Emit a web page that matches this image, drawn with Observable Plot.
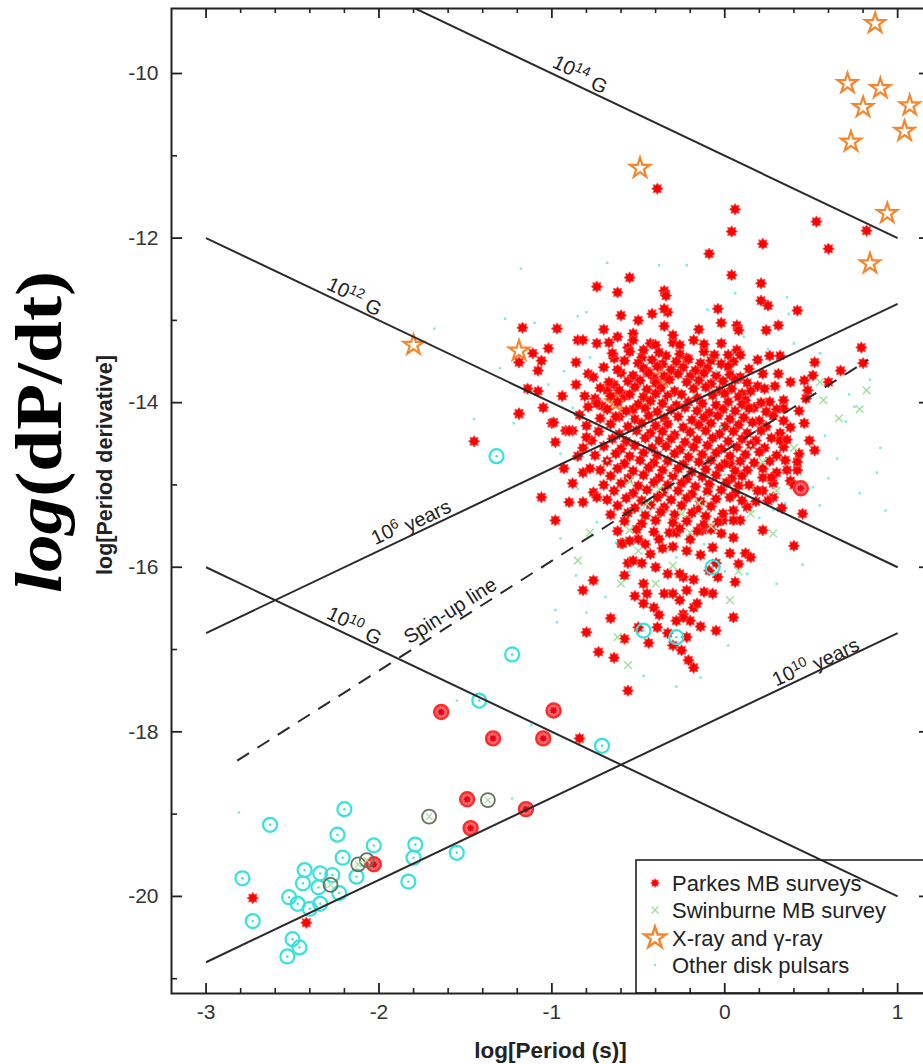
<!DOCTYPE html>
<html><head><meta charset="utf-8">
<script src="https://cdn.jsdelivr.net/npm/d3@7"></script>
<script src="https://cdn.jsdelivr.net/npm/@observablehq/plot@0.6"></script>
<style>
html,body{margin:0;padding:0;background:#fff;overflow:hidden;}
#chart{position:relative;width:923px;height:1064px;overflow:hidden;}
#chart svg{max-width:none !important;}
</style></head><body><div id="chart"></div>
<script>
// ---- tick values ----
const xMajor = [-3, -2, -1, 0, 1];
const xMinor = [-2.8, -2.6, -2.4, -2.2, -1.8, -1.6, -1.4, -1.2, -0.8, -0.6, -0.4, -0.2, 0.2, 0.4, 0.6, 0.8];
const yMajor = [-20, -18, -16, -14, -12, -10];
const yMinor = [-21, -19, -17, -15, -13, -11];

// ---- reference lines [x1, y1, x2, y2] in log P / log Pdot ----
const fieldLines = [[-3, -8, 1, -12], [-3, -12, 1, -16], [-3, -16, 1, -20]];
const ageLines = [[-3, -16.8, 1, -12.8], [-3, -20.8, 1, -16.8]];
const spinUpLine = [[-2.82, -18.35, 0.83, -13.48]];

// ---- line labels: [x, y, main, superscript, rest, kind] ----
const lineLabels = [
  [-0.83, -10.0, "10", "14", " G", "field"],
  [-2.135, -12.70, "10", "12", " G", "field"],
  [-2.135, -16.70, "10", "10", " G", "field"],
  [-1.816, -15.44, "10", "6", " years", "age"],
  [-1.586, -16.53, "Spin-up line", "", "", "spin"],
  [0.525, -17.14, "10", "10", " years", "age"]
];

// ---- Parkes MB surveys (red stars) [log P, log Pdot] ----
const parkes = [
[-0.39,-11.40],[0.06,-11.65],[0.04,-11.92],[0.22,-12.07],[0.53,-11.80],[0.60,-12.13],[0.82,-11.91],[-0.09,-12.19],
[-0.55,-12.48],[-0.62,-12.66],[0.04,-12.45],[0.21,-12.55],[-0.35,-12.64],[-0.34,-12.70],[-0.33,-12.90],[0.21,-12.76],
[0.25,-12.82],[0.42,-12.88],[-0.04,-12.86],[-0.42,-12.92],[-0.60,-12.94],[-0.74,-12.59],[-0.35,-12.86],[-1.17,-13.09],
[-0.97,-13.10],[-0.70,-13.11],[-0.50,-13.00],[-0.35,-13.07],[-0.53,-13.16],[-0.53,-13.24],[-0.85,-13.24],[-0.82,-13.24],
[-0.74,-13.28],[-0.67,-13.27],[-0.56,-13.33],[-0.43,-13.28],[-0.40,-13.30],[-0.30,-13.27],[-0.26,-13.30],[-0.18,-13.24],
[-1.02,-13.34],[-1.11,-13.40],[-1.19,-13.51],[-1.06,-13.49],[-1.08,-13.61],[-0.86,-13.51],[-0.64,-13.46],[-0.48,-13.45],
[-0.34,-13.43],[-0.26,-13.41],[-0.22,-13.46],[-0.79,-13.65],[-0.76,-13.69],[-0.60,-13.64],[-0.56,-13.74],[-0.45,-13.62],
[-0.41,-13.70],[-1.14,-13.83],[-1.08,-13.86],[-0.94,-13.92],[-1.05,-14.06],[-1.19,-14.14],[-1.00,-14.25],[-0.92,-14.34],
[-0.88,-14.34],[-0.81,-13.92],[-0.75,-13.95],[-0.71,-14.04],[-0.68,-13.85],[-0.64,-13.78],[-0.58,-13.92],[-0.53,-14.08],
[-0.61,-14.17],[-0.02,-13.03],[0.07,-13.06],[0.08,-13.12],[0.24,-13.12],[0.31,-13.06],[-0.15,-13.11],[-0.02,-13.28],
[0.07,-13.36],[0.09,-13.42],[0.19,-13.48],[0.26,-13.43],[0.32,-13.43],[0.52,-13.51],[0.79,-13.33],[0.80,-13.52],
[0.31,-13.65],[0.38,-13.75],[0.46,-13.73],[0.48,-13.85],[0.47,-13.95],[0.67,-13.61],[0.60,-13.75],[0.51,-13.67],
[0.19,-13.80],[0.23,-13.83],[0.29,-13.80],[0.34,-13.97],[0.43,-14.10],[0.34,-14.07],[0.34,-14.22],[0.46,-14.25],
[0.17,-14.06],[0.20,-14.22],[0.26,-13.99],[0.10,-13.89],[0.40,-15.74],[0.22,-15.55],[0.05,-16.61],[-0.05,-16.77],
[0.12,-15.83],[0.15,-15.88],[0.06,-16.18],[-0.04,-16.12],[-0.07,-16.32],[-0.05,-15.95],[0.49,-14.46],[0.52,-14.58],
[0.34,-14.54],[0.32,-14.37],[0.43,-14.62],[0.26,-14.71],[0.22,-15.07],[0.28,-15.15],[0.18,-15.20],[0.14,-15.00],
[-1.45,-14.47],[-1.19,-14.13],[-1.06,-15.15],[-0.98,-15.43],[-0.93,-14.80],[-0.99,-14.24],[-0.98,-14.48],[-0.90,-14.34],
[-0.82,-14.55],[-0.90,-15.21],[-0.82,-15.21],[-0.76,-15.09],[-0.74,-15.15],[-0.60,-15.71],[-0.43,-15.84],[-0.88,-14.98],
[-0.82,-14.85],[-0.76,-16.16],[-0.82,-16.28],[-0.66,-16.62],[-0.80,-16.79],[-0.73,-17.03],[-0.64,-17.10],[-0.58,-16.87],
[-0.50,-16.73],[-0.56,-17.50],[-0.59,-15.71],[-0.56,-15.95],[-0.53,-15.92],[-0.47,-16.20],[-0.45,-16.32],[-0.47,-16.44],
[-0.41,-16.49],[-0.33,-16.08],[-0.35,-16.32],[-0.30,-16.32],[-0.26,-16.40],[-0.39,-16.73],[-0.33,-16.80],[-0.25,-17.01],
[-0.21,-17.13],[-0.18,-17.22],[-0.24,-16.57],[-0.20,-16.65],[-0.50,-15.66],[-0.36,-15.77],[-0.32,-15.58],[-0.28,-15.58],
[-0.20,-15.66],[-0.13,-15.55],[-0.24,-16.61],[-0.18,-16.49],[-0.22,-16.85],[-0.02,-15.59],[0.05,-15.64],[-0.14,-15.52],
[-0.07,-15.76],[0.03,-15.83],[0.08,-15.96],[-0.09,-16.04],[-0.24,-16.12],[-0.16,-16.44],[-0.22,-16.28],[0.03,-14.74],
[0.13,-14.82],[0.22,-14.91],[0.19,-15.07],[0.25,-15.19],[0.13,-15.27],[0.05,-15.31],[0.09,-15.43],[-0.01,-15.43],
[0.32,-14.46],[0.36,-14.82],[0.42,-14.82],[0.38,-14.95],[0.30,-14.08],[0.38,-14.30],[0.35,-14.70],[0.30,-14.85],
[0.40,-15.00],[0.33,-15.28],[0.45,-15.35],[0.36,-14.45],[0.42,-14.72],[0.28,-14.98],
[-0.55,-15.68],[-0.46,-15.72],[-0.38,-15.66],[-0.30,-15.75],[-0.22,-15.80],[-0.14,-15.85],[-0.48,-15.95],[-0.40,-16.00],
[-0.26,-16.08],[-0.18,-16.15],[-0.58,-16.10],[-0.52,-16.35],[-0.38,-16.58],[-0.28,-16.65],[-0.12,-16.30],[-0.14,-16.72],
[-0.44,-16.92],[-0.30,-16.95],
[-0.58,-13.49],[-0.50,-13.52],[-0.42,-13.48],[-0.36,-13.53],[-0.28,-13.50],[-0.21,-13.47],[-0.14,-13.52],[-0.08,-13.49],[-0.02,-13.53],[0.05,-13.50],
[-0.70,-13.57],[-0.62,-13.60],[-0.47,-13.58],[-0.39,-13.56],[-0.31,-13.60],[-0.24,-13.57],[-0.17,-13.61],[-0.10,-13.58],[0.02,-13.56],[0.14,-13.59],
[-0.53,-13.67],[-0.44,-13.64],[-0.35,-13.68],[-0.27,-13.65],[-0.20,-13.68],[-0.12,-13.64],[-0.05,-13.67],[0.03,-13.66],[0.09,-13.69],[0.22,-13.65],
[-0.67,-13.75],[-0.49,-13.73],[-0.40,-13.76],[-0.32,-13.72],[-0.22,-13.75],[-0.15,-13.73],[-0.08,-13.77],[-0.01,-13.74],[0.06,-13.72],[0.13,-13.76],
[-0.72,-13.82],[-0.61,-13.85],[-0.52,-13.81],[-0.45,-13.84],[-0.37,-13.82],[-0.29,-13.86],[-0.18,-13.83],[-0.11,-13.81],[-0.03,-13.85],[0.04,-13.83],[0.15,-13.86],
[-0.66,-13.92],[-0.55,-13.90],[-0.47,-13.93],[-0.40,-13.89],[-0.33,-13.92],[-0.25,-13.90],[-0.16,-13.94],[-0.07,-13.91],[0.00,-13.89],[0.08,-13.93],[0.12,-13.97],
[-0.74,-14.01],[-0.62,-13.99],[-0.50,-14.02],[-0.43,-13.98],[-0.36,-14.01],[-0.28,-14.03],[-0.21,-13.99],[-0.13,-14.01],[-0.05,-14.03],[0.02,-13.99],[0.10,-14.02],[0.21,-14.00],
[-0.68,-14.08],[-0.57,-14.10],[-0.46,-14.07],[-0.39,-14.11],[-0.31,-14.09],[-0.23,-14.06],[-0.16,-14.10],[-0.09,-14.12],[-0.01,-14.08],[0.06,-14.10],[0.14,-14.07],[0.24,-14.11],
[-0.72,-14.19],[-0.63,-14.17],[-0.52,-14.20],[-0.44,-14.16],[-0.35,-14.19],[-0.27,-14.17],[-0.19,-14.21],[-0.12,-14.18],[-0.04,-14.16],[0.03,-14.20],[0.11,-14.18],[0.28,-14.16],
[-0.80,-14.28],[-0.66,-14.26],[-0.56,-14.29],[-0.48,-14.25],[-0.40,-14.28],[-0.33,-14.26],[-0.24,-14.30],[-0.15,-14.27],[-0.08,-14.25],[0.00,-14.29],[0.08,-14.27],[0.16,-14.24],[0.24,-14.29],
[-0.73,-14.35],[-0.61,-14.38],[-0.51,-14.34],[-0.43,-14.37],[-0.36,-14.35],[-0.29,-14.39],[-0.20,-14.36],[-0.11,-14.34],[-0.03,-14.38],[0.05,-14.35],[0.13,-14.37],[0.21,-14.34],
[-0.77,-14.46],[-0.65,-14.44],[-0.57,-14.47],[-0.46,-14.43],[-0.38,-14.46],[-0.31,-14.44],[-0.23,-14.48],[-0.16,-14.45],[-0.07,-14.43],[0.02,-14.47],[0.10,-14.44],[0.18,-14.46],[0.27,-14.43],
[-0.70,-14.53],[-0.60,-14.56],[-0.52,-14.52],[-0.42,-14.55],[-0.34,-14.53],[-0.26,-14.57],[-0.18,-14.54],[-0.10,-14.52],[-0.02,-14.56],[0.07,-14.54],[0.15,-14.51],[0.23,-14.55],
[-0.75,-14.64],[-0.63,-14.62],[-0.55,-14.65],[-0.47,-14.61],[-0.39,-14.64],[-0.29,-14.62],[-0.21,-14.66],[-0.13,-14.63],[-0.05,-14.61],[0.03,-14.65],[0.12,-14.63],[0.20,-14.60],[0.30,-14.64],
[-0.68,-14.71],[-0.58,-14.74],[-0.49,-14.70],[-0.41,-14.73],[-0.33,-14.71],[-0.24,-14.75],[-0.15,-14.72],[-0.08,-14.70],[0.00,-14.74],[0.09,-14.71],[0.17,-14.73],
[-0.72,-14.82],[-0.62,-14.80],[-0.53,-14.83],[-0.44,-14.79],[-0.36,-14.82],[-0.27,-14.80],[-0.19,-14.84],[-0.11,-14.81],[-0.03,-14.79],[0.06,-14.83],[0.22,-14.80],
[-0.66,-14.89],[-0.56,-14.92],[-0.47,-14.88],[-0.38,-14.91],[-0.30,-14.89],[-0.22,-14.93],[-0.13,-14.90],[-0.05,-14.88],[0.04,-14.92],[0.10,-14.89],[0.27,-14.91],
[-0.70,-15.00],[-0.60,-14.98],[-0.50,-15.01],[-0.41,-14.97],[-0.33,-15.00],[-0.25,-14.98],[-0.17,-15.02],[-0.09,-14.99],[0.01,-14.97],[0.08,-15.01],
[-0.64,-15.07],[-0.53,-15.10],[-0.45,-15.06],[-0.36,-15.09],[-0.27,-15.07],[-0.19,-15.11],[-0.10,-15.08],[-0.02,-15.06],[0.06,-15.10],
[-0.68,-15.18],[-0.57,-15.16],[-0.48,-15.19],[-0.39,-15.15],[-0.31,-15.18],[-0.22,-15.16],[-0.14,-15.20],[-0.05,-15.17],[0.03,-15.15],[0.10,-15.19],
[-0.62,-15.25],[-0.52,-15.28],[-0.43,-15.24],[-0.35,-15.27],[-0.25,-15.25],[-0.16,-15.29],[-0.08,-15.26],
[-0.66,-15.36],[-0.56,-15.34],[-0.46,-15.37],[-0.37,-15.33],[-0.29,-15.36],[-0.19,-15.34],[-0.11,-15.38],[-0.01,-15.35],
[-0.58,-15.44],[-0.48,-15.47],[-0.40,-15.43],[-0.30,-15.46],[-0.22,-15.44],[-0.12,-15.48],[-0.04,-15.45],[0.05,-15.43],
[-0.62,-15.56],[-0.51,-15.54],[-0.41,-15.57],[-0.26,-15.53],[-0.16,-15.56],[-0.08,-15.54],
[-0.65,-13.40],[-0.55,-13.38],[-0.47,-13.36],[-0.38,-13.39],[-0.12,-13.38],[-0.06,-13.42],[-0.30,-13.18],[-0.62,-13.20],
[-0.12,-13.29],[0.02,-13.42],[-0.86,-13.78],[-0.84,-14.15],[-0.79,-14.05],[-0.85,-14.65],[-0.78,-14.80],[-0.80,-14.42],
[-2.73,-20.02],[-2.42,-20.32],[-0.84,-18.08]
];

// ---- Swinburne MB survey (light green crosses) ----
const swinburne = [
[-0.85,-15.92],[-0.56,-17.19],[0.55,-13.75],[0.57,-13.97],[0.66,-14.19],[0.30,-15.07],[0.28,-15.59],[0.03,-16.40],
[0.08,-16.05],[-0.20,-15.58],[-0.55,-15.55],[-0.45,-15.23],[-0.50,-15.80],[-0.40,-16.20],[-0.30,-15.98],[-0.15,-15.22],
[-0.08,-15.50],[-0.62,-16.85],[-0.38,-15.05],[-0.60,-16.20],[-0.25,-15.35],[0.15,-15.35],[-0.55,-14.95],[0.40,-14.55],
[0.22,-14.72],[0.78,-14.08],[0.82,-13.85],[-0.78,-15.58]
];

// ---- X-ray and gamma-ray (orange open stars) ----
const xray = [
[0.87,-9.39],[0.71,-10.12],[0.90,-10.18],[0.80,-10.41],[1.07,-10.39],[1.04,-10.70],[0.73,-10.83],[-0.49,-11.15],
[0.94,-11.70],[0.84,-12.31],[-1.80,-13.30],[-1.19,-13.37],[-0.37,-13.69],[-0.63,-14.00]
];

// ---- Other disk pulsars (small cyan dots) ----
const otherDisk = [
[-1.18,-12.37],[-0.68,-12.30],[-0.38,-12.33],[-0.22,-12.33],[0.06,-12.67],[0.36,-12.72],[0.37,-12.92],[0.55,-13.40],
[-1.27,-12.98],[-1.10,-13.03],[-0.85,-12.95],[-0.80,-12.90],[-1.30,-13.58],[-0.93,-13.62],[-0.78,-13.45],[-1.02,-13.78],
[-0.88,-14.06],[-1.22,-14.25],[-0.68,-14.70],[-0.95,-14.62],[-0.85,-15.05],[-0.95,-15.65],[-1.05,-16.00],[-0.74,-15.45],
[-0.69,-16.36],[-0.98,-16.52],[-0.55,-16.05],[-0.63,-15.70],[-0.28,-15.88],[-0.12,-15.72],[0.00,-16.05],[0.13,-16.08],
[0.20,-15.40],[0.28,-15.30],[0.35,-15.22],[0.31,-14.92],[0.44,-14.88],[0.51,-15.03],[0.55,-15.25],[0.60,-14.92],
[0.65,-14.68],[0.58,-14.40],[0.70,-14.23],[0.75,-14.05],[0.72,-13.90],[0.84,-13.72],[0.90,-14.55],[0.93,-15.31],
[0.88,-14.85],[0.78,-15.10],[0.25,-13.35],[0.40,-13.28],[-0.10,-12.87],[0.11,-13.20],[-0.45,-13.52],[-0.18,-13.90],
[-0.02,-14.30],[-0.30,-14.85],[-0.10,-15.13],[-0.41,-14.45],[-0.22,-14.58],[-0.59,-14.92],[-0.48,-15.30],[-0.15,-15.35],
[0.00,-14.88],[0.15,-14.52],[-0.05,-13.62],[-0.32,-13.96],[-0.55,-14.20],[-1.45,-14.20],[-1.68,-13.10],[-2.81,-18.98],
[-1.55,-17.62],[-1.12,-17.92],[-0.47,-17.32],[-0.28,-17.45],[-0.14,-17.34],[0.02,-16.95],[0.30,-16.20],[0.45,-15.97],
[-1.23,-18.81],[-0.97,-16.67],[-0.80,-16.55],[-0.86,-16.10]
];

// ---- binary pulsars (open circles) by survey ----
const binaryOther = [
[-1.32,-14.65],[-1.23,-17.06],[-1.42,-17.62],[-0.71,-18.17],[-0.47,-16.77],[-0.28,-16.85],[-0.07,-16.00],[-2.79,-19.78],
[-2.63,-19.13],[-2.73,-20.30],[-2.20,-18.94],[-2.24,-19.25],[-2.21,-19.53],[-2.03,-19.38],[-1.79,-19.37],[-1.80,-19.53],
[-1.83,-19.82],[-2.13,-19.76],[-2.43,-19.68],[-2.34,-19.72],[-2.27,-19.74],[-2.44,-19.84],[-2.35,-19.89],[-2.23,-19.96],
[-2.52,-20.01],[-2.47,-20.09],[-2.40,-20.15],[-2.34,-20.09],[-2.50,-20.52],[-2.46,-20.62],[-2.53,-20.73],[-1.55,-19.47]
];
const binaryParkes = [
[-1.64,-17.76],[-0.99,-17.74],[-1.34,-18.08],[-1.05,-18.08],[-1.49,-18.82],[-1.47,-19.17],[-1.15,-18.94],[-2.03,-19.61],[0.44,-15.04]
];
const binarySwinburne = [
[-1.37,-18.83],[-1.71,-19.03],[-2.12,-19.61],[-2.07,-19.56],[-2.28,-19.86]
];

// ---- legend entries ----
const legendItems = ["Parkes MB surveys", "Swinburne MB survey", "X-ray and \u03b3-ray", "Other disk pulsars"];

// ---- colours ----
const RED = "#ff0000", ORANGE = "#f5862e", CYAN = "#36e2dc", CYANDOT = "#7ce9ec", GREEN = "#9fe09a", INK = "#222";

// filled 8-point star used for Parkes pulsars
const star8 = {
  draw(ctx, size) {
    const r = Math.sqrt(size / Math.PI);
    const R = r * 1.25, ri = r * 0.8;
    for (let i = 0; i < 16; i++) {
      const a = (i * Math.PI) / 8 - Math.PI / 2;
      const rr = i % 2 ? ri : R;
      const px = rr * Math.cos(a), py = rr * Math.sin(a);
      if (i === 0) ctx.moveTo(px, py); else ctx.lineTo(px, py);
    }
    ctx.closePath();
  }
};

const W = 935, H = 1064, ML = 171, MR = 5, MT = 8, MB = 71;
const FW = W - ML - MR, FH = H - MT - MB;
const px = d => d[0], py = d => d[1];
const STAR_R = 4.6;

const chart = Plot.plot({
  width: W, height: H,
  marginLeft: ML, marginRight: MR, marginTop: MT, marginBottom: MB,
  x: {domain: [-3.2, 1.19]},
  y: {domain: [-21.18, -9.21]},
  style: {fontFamily: "'Liberation Sans', Arial, Helvetica, sans-serif", fontSize: "21px", color: INK, background: "#fff", maxWidth: "none"},
  marks: [
    Plot.dot(xray, {x: px, y: py, r: 6.3, symbol: "star", stroke: ORANGE, strokeWidth: 2.2, fill: "none"}),
    Plot.dot(parkes, {x: px, y: py, r: STAR_R, symbol: star8, fill: RED, stroke: "#ff4848", strokeWidth: 0.8}),
    Plot.dot(swinburne, {x: px, y: py, r: 3.6, symbol: "times", stroke: GREEN, strokeWidth: 1.4}),
    Plot.dot(otherDisk, {x: px, y: py, r: 1.4, symbol: "square", fill: CYANDOT}),
    Plot.dot(binaryOther, {x: px, y: py, r: 7, stroke: CYAN, strokeWidth: 2.2, fill: "none"}),
    Plot.dot(binaryOther, {x: px, y: py, r: 1.2, fill: CYAN}),
    Plot.dot(binaryParkes, {x: px, y: py, r: 7, stroke: "#ff2a2a", strokeWidth: 2.4, fill: "#ff6a6a"}),
    Plot.dot(binaryParkes, {x: px, y: py, r: 3.2, symbol: star8, fill: "#e8001a"}),
    Plot.dot(binarySwinburne, {x: px, y: py, r: 7, stroke: "#66735e", strokeWidth: 1.8, fill: "none"}),
    Plot.dot(binarySwinburne, {x: px, y: py, r: 3, symbol: "times", stroke: GREEN, strokeWidth: 1.2}),
    Plot.link(fieldLines.concat(ageLines), {x1: d => d[0], y1: d => d[1], x2: d => d[2], y2: d => d[3], stroke: "#2a2a2a", strokeWidth: 2, clip: true}),
    Plot.link(spinUpLine, {x1: d => d[0], y1: d => d[1], x2: d => d[2], y2: d => d[3], stroke: "#2a2a2a", strokeWidth: 2, strokeDasharray: "14,10"}),
    Plot.frame({stroke: INK, strokeWidth: 2}),
    Plot.tickX(xMajor, {x: d => d, insetTop: FH - 10, stroke: INK, strokeWidth: 1.8}),
    Plot.tickX(xMajor, {x: d => d, insetBottom: FH - 10, stroke: INK, strokeWidth: 1.8}),
    Plot.tickX(xMinor, {x: d => d, insetTop: FH - 5, stroke: INK, strokeWidth: 1.6}),
    Plot.tickX(xMinor, {x: d => d, insetBottom: FH - 5, stroke: INK, strokeWidth: 1.6}),
    Plot.tickY(yMajor, {y: d => d, insetRight: FW - 11, stroke: INK, strokeWidth: 1.8}),
    Plot.tickY(yMajor, {y: d => d, insetLeft: FW - 11, stroke: INK, strokeWidth: 1.8}),
    Plot.tickY(yMinor, {y: d => d, insetRight: FW - 6, stroke: INK, strokeWidth: 1.6}),
    Plot.tickY(yMinor, {y: d => d, insetLeft: FW - 6, stroke: INK, strokeWidth: 1.6}),
    Plot.axisX({ticks: xMajor, tickSize: 0, tickPadding: 11, tickFormat: d => String(d), label: null, fontSize: 21, fill: "#333"}),
    Plot.axisY({ticks: yMajor, tickSize: 0, tickPadding: 13, tickFormat: d => String(d), label: null, fontSize: 21, fill: "#333"})
  ]
});
chart.style.maxWidth = "none";
chart.style.width = W + "px";
chart.style.height = H + "px";
document.getElementById("chart").appendChild(chart);

const sx = chart.scale("x"), sy = chart.scale("y");
const svg = d3.select(chart);
const slopePx = Math.atan(((sy.apply(-12) - sy.apply(-11)) / (sx.apply(1) - sx.apply(0)))) * 180 / Math.PI;
const FONT = "'Liberation Sans', Arial, sans-serif";

// line labels
lineLabels.forEach(([lx, ly, main, sup, rest, kind]) => {
  let ang = kind === "field" ? slopePx : -slopePx;
  if (kind === "spin") ang = -Math.atan(Math.tan(slopePx * Math.PI / 180) * 4 / 3) * 180 / Math.PI;
  const t = svg.append("text")
    .attr("transform", `translate(${sx.apply(lx)},${sy.apply(ly)}) rotate(${ang})`)
    .attr("text-anchor", "middle").attr("dy", "0.35em")
    .attr("font-family", FONT).attr("font-size", 20).attr("fill", INK);
  t.append("tspan").text(main);
  if (sup) {
    t.append("tspan").attr("font-size", 14).attr("dy", "-0.45em").text(sup);
    t.append("tspan").attr("dy", "0.45em").text(rest);
  }
});

// axis titles
svg.append("text").attr("x", (ML + W - MR) / 2).attr("y", 1058).attr("text-anchor", "middle")
  .attr("font-weight", "bold").attr("font-size", 22.5).attr("fill", INK)
  .attr("font-family", FONT).text("log[Period (s)]");
svg.append("text").attr("transform", "translate(112,465) rotate(-90)").attr("text-anchor", "middle")
  .attr("font-weight", "bold").attr("font-size", 21.5).attr("fill", INK)
  .attr("font-family", FONT).text("log[Period derivative]");
const big = svg.append("text").attr("transform", "translate(61,432) rotate(-90)").attr("text-anchor", "middle")
  .attr("font-weight", "bold").attr("font-size", 66).attr("fill", "#000")
  .attr("textLength", 322).attr("lengthAdjust", "spacingAndGlyphs")
  .attr("font-family", "'Liberation Serif', 'Times New Roman', serif");
big.append("tspan").attr("font-style", "italic").text("log");
big.append("tspan").text("(dP/dt)");

// legend box
const lg = svg.append("g");
lg.append("rect").attr("x", 636).attr("y", 860).attr("width", 320).attr("height", H - MB - 860)
  .attr("fill", "none").attr("stroke", INK).attr("stroke-width", 1.6);
const rowsY = [883, 910, 938, 965];
const symPaths = [
  d3.symbol(star8, Math.PI * 3.6 * 3.6)(),
  d3.symbol(d3.symbolTimes, Math.PI * 3.2 * 3.2)(),
  d3.symbol(d3.symbolStar, Math.PI * 6.8 * 6.8)(),
  d3.symbol(d3.symbolSquare, Math.PI * 1.3 * 1.3)()
];
const symStyle = [
  {fill: RED, stroke: "#ff4848", sw: 0.6},
  {fill: "none", stroke: GREEN, sw: 1.3},
  {fill: "none", stroke: ORANGE, sw: 2.4},
  {fill: CYANDOT, stroke: "none", sw: 0}
];
legendItems.forEach((label, i) => {
  lg.append("path").attr("d", symPaths[i]).attr("transform", `translate(655,${rowsY[i]})`)
    .attr("fill", symStyle[i].fill).attr("stroke", symStyle[i].stroke).attr("stroke-width", symStyle[i].sw);
  lg.append("text").attr("x", 672).attr("y", rowsY[i]).attr("dy", "0.35em").attr("text-anchor", "start")
    .attr("font-family", FONT).attr("font-size", 22).attr("fill", INK).text(label);
});
</script></body></html>
